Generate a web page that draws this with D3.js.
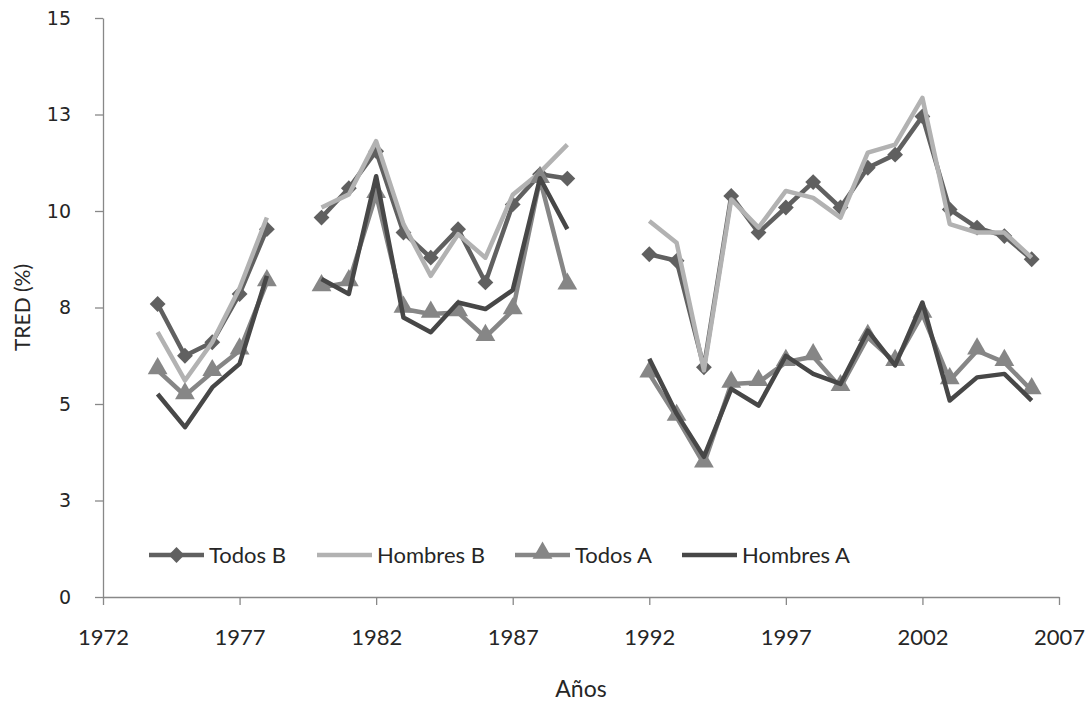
<!DOCTYPE html>
<html>
<head>
<meta charset="utf-8">
<script src="https://cdn.jsdelivr.net/npm/d3@7"></script>
<style>
  body { margin: 0; background: #fff; }
  .chart text { fill: #262626; }
</style>
</head>
<body>
<div class="chart"></div>
<script>
// years with gaps (null = no data)
const years = [1974, 1975, 1976, 1977, 1978, 1979, 1980, 1981, 1982, 1983, 1984, 1985, 1986, 1987, 1988, 1989,
  1990, 1991, 1992, 1993, 1994, 1995, 1996, 1997, 1998, 1999, 2000, 2001, 2002, 2003, 2004, 2005, 2006];

const todosB = [7.59, 6.25, 6.60, 7.85, 9.53, null, 9.83, 10.59, 11.55, 9.44, 8.79, 9.53, 8.15, 10.17, 10.95, 10.84,
  null, null, 8.88, 8.71, 5.95, 10.39, 9.44, 10.09, 10.75, 10.09, 11.12, 11.46, 12.45, 10.04, 9.57, 9.35, 8.75];
const hombresB = [6.86, 5.61, 6.60, 8.0, 9.83, null, 10.09, 10.43, 11.81, 9.66, 8.32, 9.40, 8.79, 10.42, 11.0, 11.72,
  null, null, 9.74, 9.18, 5.87, 10.30, 9.57, 10.52, 10.34, 9.83, 11.51, 11.72, 12.93, 9.66, 9.44, 9.44, 8.79];
const todosA = [5.87, 5.22, 5.82, 6.38, 8.15, null, 8.02, 8.15, 10.43, 7.46, 7.33, 7.37, 6.73, 7.42, 10.82, 8.06,
  null, null, 5.78, 4.66, 3.45, 5.52, 5.56, 6.08, 6.23, 5.43, 6.73, 6.08, 7.33, 5.61, 6.38, 6.08, 5.35];
const hombresA = [5.26, 4.40, 5.43, 6.04, 8.32, null, 8.24, 7.85, 10.9, 7.24, 6.86, 7.63, 7.46, 7.95, 10.85, 9.53,
  null, null, 6.17, 4.75, 3.63, 5.39, 4.96, 6.25, 5.78, 5.52, 6.90, 6.0, 7.63, 5.09, 5.69, 5.78, 5.09];

const xTicks = [1972, 1977, 1982, 1987, 1992, 1997, 2002, 2007];
const yTicks = [0, 2.5, 5, 7.5, 10, 12.5, 15];
const yTickLabels = ["0", "3", "5", "8", "10", "13", "15"];

const width = 1092;
const height = 706;
const plotLeft = 103, plotRight = 1059, plotTop = 18, plotBottom = 597;

const series = [
  { name: "Todos B", values: todosB, color: "#606060", marker: "diamond" },
  { name: "Hombres B", values: hombresB, color: "#b2b2b2", marker: null },
  { name: "Todos A", values: todosA, color: "#868686", marker: "triangle" },
  { name: "Hombres A", values: hombresA, color: "#474747", marker: null }
];

const svg = d3.select(".chart")
  .append("svg")
  .attr("width", width)
  .attr("height", height);

const xScale = d3.scaleLinear().domain([1972, 2007]).range([plotLeft, plotRight]);
const yScale = d3.scaleLinear().domain([0, 15]).range([plotBottom, plotTop]);

const xAxis = d3.axisBottom(xScale)
  .tickValues(xTicks)
  .tickFormat(d3.format("d"))
  .tickSizeInner(8)
  .tickSizeOuter(0)
  .tickPadding(24);

const yAxis = d3.axisLeft(yScale)
  .tickValues(yTicks)
  .tickFormat((d, i) => yTickLabels[i])
  .tickSizeInner(8)
  .tickSizeOuter(0)
  .tickPadding(24);

const gx = svg.append("g")
  .attr("transform", "translate(0," + plotBottom + ")")
  .call(xAxis);
gx.selectAll("text").style("font", "22px Lato");

const gy = svg.append("g")
  .attr("transform", "translate(" + plotLeft + ",0)")
  .call(yAxis);
gy.selectAll("text").style("font", "19px 'DejaVu Sans'");

svg.selectAll(".domain, .tick line").attr("stroke", "#888").attr("stroke-width", 1.3);

// axis titles
svg.append("text")
  .attr("x", (plotLeft + plotRight) / 2)
  .attr("y", 697)
  .attr("text-anchor", "middle")
  .style("font", "23px Lato")
  .text("Años");

svg.append("text")
  .attr("transform", "translate(30," + ((plotTop + plotBottom) / 2) + ") rotate(-90)")
  .attr("text-anchor", "middle")
  .style("font", "21px Lato")
  .text("TRED (%)");

const line = d3.line()
  .defined(d => d[1] !== null)
  .x(d => xScale(d[0]))
  .y(d => yScale(d[1]));

const diamond = d3.symbol().type(d3.symbolSquare).size(125);
const triangle = d3.symbol().type(d3.symbolTriangle).size(170);

function drawMarker(sel, type, color) {
  if (type === "diamond") {
    sel.append("path").attr("d", diamond()).attr("transform", "rotate(45)").attr("fill", color);
  } else if (type === "triangle") {
    sel.append("path").attr("d", triangle()).attr("transform", "translate(0,-2)").attr("fill", color);
  }
}

series.forEach(s => {
  const pts = years.map((y, i) => [y, s.values[i]]);
  svg.append("path")
    .datum(pts)
    .attr("fill", "none")
    .attr("stroke", s.color)
    .attr("stroke-width", 4.5)
    .attr("stroke-linejoin", "round")
    .attr("d", line);

  if (s.marker) {
    svg.append("g")
      .selectAll("g")
      .data(pts.filter(d => d[1] !== null))
      .enter()
      .append("g")
      .attr("transform", d => "translate(" + xScale(d[0]) + "," + yScale(d[1]) + ")")
      .each(function () { drawMarker(d3.select(this), s.marker, s.color); });
  }
});

// legend
const legendX = [149, 317, 515, 682];
const legendY = 555;
const legend = svg.append("g");
series.forEach((s, i) => {
  const g = legend.append("g").attr("transform", "translate(" + legendX[i] + "," + legendY + ")");
  g.append("line")
    .attr("x1", 0).attr("x2", 55)
    .attr("stroke", s.color)
    .attr("stroke-width", 4.5);
  const m = g.append("g").attr("transform", "translate(27.5,0)");
  drawMarker(m, s.marker, s.color);
  g.append("text")
    .attr("x", 60)
    .attr("y", 8)
    .style("font", "22px Lato")
    .text(s.name);
});
</script>
</body>
</html>
